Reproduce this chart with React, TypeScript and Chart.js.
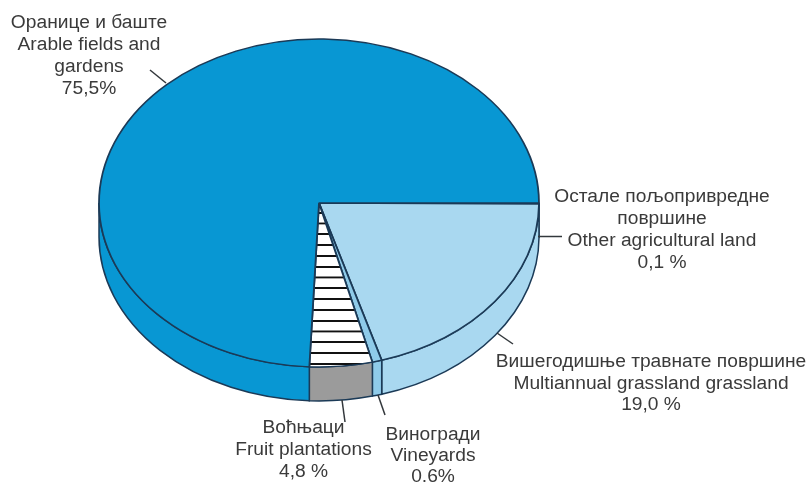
import React, { useEffect, useRef } from "react";
import { Chart, registerables } from "chart.js";

Chart.register(...registerables);

const categories = ["Other agricultural land", "Multiannual grassland", "Vineyards", "Fruit plantations", "Arable fields and gardens"];
// Shares as drawn in the picture (read from slice boundaries)
const drawnShares = [0.1, 20.3, 0.7, 4.6, 74.3];
const topColors = ["#a9d8f0", "#a9d8f0", "#8fcbe9", "HATCH", "#0897d3"];
const sideColors = ["#a9d8f0", "#a9d8f0", "#8fcbe9", "#9b9b9b", "#0897d3"];

const labelLines = [
  ["Оранице и баште", "Arable fields and", "gardens", "75,5%"],
  ["Остале пољопривредне", "површине", "Other agricultural land", "0,1 %"],
  ["Вишегодишње травнате површине", "Multiannual grassland grassland", "19,0 %"],
  ["Воћњаци", "Fruit plantations", "4,8 %"],
  ["Виногради", "Vineyards", "0,6%"],
];
const labelPlaces = [
  { x: 89, y: 23, step: 22 },
  { x: 662, y: 197, step: 22 },
  { x: 651, y: 362, step: 21.5 },
  { x: 303.5, y: 428, step: 22 },
  { x: 433, y: 435, step: 21 },
];
const leaders = [
  [150, 70, 166, 83],
  [538, 236.5, 562, 236.5],
  [497, 333, 513, 344],
  [342, 400, 345, 422],
  [378, 395, 385, 415],
];

const CX = 319, CY = 203, RX = 220, RY = 164, DEPTH = 34;
const LINE = "#1b3a57";

function makeHatch(ctx: CanvasRenderingContext2D) {
  const tile = document.createElement("canvas");
  tile.width = 4;
  tile.height = 44;
  const t = tile.getContext("2d")!;
  t.fillStyle = "#ffffff";
  t.fillRect(0, 0, 4, 44);
  t.fillStyle = "#111111";
  t.fillRect(0, 0, 4, 8);
  const p = ctx.createPattern(tile, "repeat")!;
  const period = 10.8 / (RY / RX);
  const firstLine = CY + (222.5 - CY) / (RY / RX);
  p.setTransform(new DOMMatrix().translate(0, firstLine % period).scale(1, period / 44));
  return p;
}

const pie3d = {
  id: "pie3d",
  beforeDatasetsDraw(chart: any) {
    const ctx: CanvasRenderingContext2D = chart.ctx;
    const arcs = chart.getDatasetMeta(0).data;
    ctx.save();
    arcs.forEach((arc: any, i: number) => {
      const a = Math.max(arc.startAngle, 0);
      const b = Math.min(arc.endAngle, Math.PI);
      if (b <= a) return;
      ctx.beginPath();
      ctx.ellipse(CX, CY, RX, RY, 0, a, b);
      ctx.ellipse(CX, CY + DEPTH, RX, RY, 0, b, a, true);
      ctx.closePath();
      ctx.fillStyle = sideColors[i];
      ctx.fill();
      ctx.strokeStyle = LINE;
      ctx.lineWidth = 1.5;
      ctx.stroke();
    });
    ctx.restore();
    ctx.save();
    ctx.translate(CX, CY);
    ctx.scale(1, RY / RX);
    ctx.translate(-CX, -CY);
  },
  afterDatasetsDraw(chart: any) {
    const ctx: CanvasRenderingContext2D = chart.ctx;
    ctx.restore();
    ctx.save();
    ctx.strokeStyle = "#33383c";
    ctx.lineWidth = 1.5;
    leaders.forEach(([x1, y1, x2, y2]) => {
      ctx.beginPath();
      ctx.moveTo(x1, y1);
      ctx.lineTo(x2, y2);
      ctx.stroke();
    });
    ctx.fillStyle = "#3a3a3a";
    ctx.font = '19.2px "Liberation Sans"';
    ctx.textAlign = "center";
    ctx.textBaseline = "middle";
    labelLines.forEach((lines, i) => {
      const p = labelPlaces[i];
      lines.forEach((s, k) => ctx.fillText(s, p.x, p.y + k * p.step));
    });
    ctx.restore();
  },
};

export default function App() {
  const ref = useRef<HTMLCanvasElement>(null);
  useEffect(() => {
    const canvas = ref.current!;
    const ctx = canvas.getContext("2d")!;
    const hatch = makeHatch(ctx);
    const chart = new Chart(canvas, {
      type: "pie",
      data: {
        labels: categories,
        datasets: [
          {
            data: drawnShares,
            backgroundColor: topColors.map((c) => (c === "HATCH" ? hatch : c)),
            borderColor: LINE,
            borderWidth: 1.8,
            radius: RX,
            clip: false,
          } as any,
        ],
      },
      options: {
        responsive: false,
        animation: false,
        rotation: 90,
        devicePixelRatio: 1,
        layout: { padding: { left: 0, right: 810 - 2 * CX, top: 0, bottom: 482 - 2 * CY } },
        plugins: { legend: { display: false }, tooltip: { enabled: false } },
      },
      plugins: [pie3d],
    });
    return () => chart.destroy();
  }, []);
  return (
    <canvas
      ref={ref}
      width={810}
      height={482}
      style={{ position: "absolute", left: 0, top: 0, width: 810, height: 482, background: "#fff" }}
    />
  );
}
